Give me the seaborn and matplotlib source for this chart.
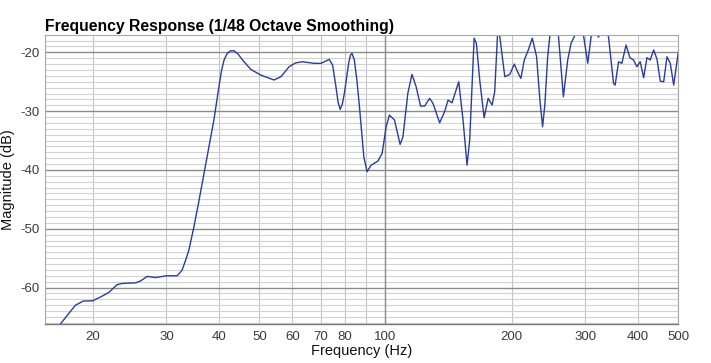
import matplotlib
matplotlib.use("Agg")
import matplotlib.pyplot as plt
import matplotlib.ticker as mticker
import seaborn as sns

# frequency (Hz) and magnitude (dB)
freq_hz = [16.4, 16.8, 18.2, 19.0, 20.0, 20.9, 21.85, 22.9, 23.55, 25.3, 26.0, 27.0, 28.25,
           30.0, 31.85, 32.7, 33.3, 33.95, 34.9, 35.8, 36.9, 37.9, 38.96, 40.05, 40.6, 41.2,
           41.9, 42.7, 43.5, 44.5, 45.6, 47.7, 50.4, 54.2, 56.3, 58.9, 61.0, 63.4, 67.6, 70.15,
           72.0, 73.4, 74.8, 76.2, 77.1, 78.0, 78.9, 79.8, 81.7, 82.5, 83.2, 84.3, 85.5, 86.7,
           88.8, 90.4, 92.4, 95.9, 98.2, 100.4, 102.2, 105.1, 108.4, 110.1, 113.1, 115.7,
           118.4, 121.3, 124.0, 127.5, 129.9, 134.7, 138.4, 141.1, 144.2, 149.6, 153.2, 156.6,
           158.9, 162.8, 164.85, 167.9, 172.0, 175.85, 179.75, 182.3, 185.6, 187.5, 192.7,
           198.1, 203.0, 207.5, 210.5, 214.5, 219.25, 224.15, 229.5, 233.7, 237.2, 240.3,
           243.9, 247.0, 252.0, 258.7, 265.9, 272.3, 277.3, 283.5, 289.0, 296.9, 304.0, 309.6,
           315.0, 322.5, 332.0, 340.7, 350.3, 353.4, 360.1, 366.7, 375.2, 383.2, 391.1, 398.3,
           405.6, 413.3, 420.9, 428.6, 436.7, 444.7, 452.9, 461.4, 469.9, 478.5, 487.5, 500.0]
magnitude_db = [-67.3, -66.1, -63.0, -62.3, -62.25, -61.6, -60.85, -59.5, -59.3, -59.2, -58.9,
                -58.1, -58.3, -58.0, -58.0, -57.05, -55.5, -53.65, -49.7, -45.65, -40.6, -36.07,
                -31.5, -25.85, -23.2, -21.3, -20.2, -19.73, -19.73, -20.3, -21.3, -22.9, -23.86,
                -24.7, -24.15, -22.45, -21.8, -21.6, -21.87, -21.87, -21.5, -21.2, -22.16,
                -25.86, -28.5, -29.7, -28.8, -26.98, -21.87, -20.5, -20.17, -21.3, -24.8, -29.26,
                -37.77, -40.3, -39.2, -38.5, -37.2, -32.66, -30.67, -31.5, -35.66, -34.37,
                -26.98, -23.74, -25.86, -29.14, -29.14, -27.83, -28.68, -31.98, -30.1, -28.12,
                -28.58, -25.0, -31.52, -39.18, -34.93, -17.6, -18.47, -24.7, -31.13, -27.83,
                -28.97, -26.7, -15.5, -17.35, -24.15, -23.74, -22.0, -23.57, -24.43, -21.3,
                -19.6, -17.6, -20.75, -28.12, -32.66, -28.68, -20.75, -17.05, -14.5, -17.05,
                -27.56, -21.3, -18.47, -17.05, -15.0, -17.05, -21.87, -17.35, -16.0, -17.4,
                -15.5, -17.35, -25.28, -25.57, -21.6, -21.87, -18.76, -20.9, -21.3, -22.45,
                -21.6, -24.3, -20.9, -21.3, -19.6, -21.14, -24.9, -25.0, -20.75, -21.87, -25.57,
                -19.95]

x_ticks = [20, 30, 40, 50, 60, 70, 80, 100, 200, 300, 400, 500]
x_tick_labels = ["20", "30", "40", "50", "60", "70", "80", "100", "200", "300", "400", "500"]
x_minor = [90]
y_ticks = [-60, -50, -40, -30, -20]

sns.set_theme(style="white")
plt.rcParams["font.family"] = ["Liberation Sans", "DejaVu Sans"]
plt.rcParams["axes.unicode_minus"] = False

fig = plt.figure(figsize=(7.11, 3.63), dpi=100)
ax = fig.add_axes([0.0633, 0.1074, 0.8907, 0.7962])

sns.lineplot(x=freq_hz, y=magnitude_db, ax=ax, color="#2a3d98", linewidth=1.0,
             sort=False, estimator=None)

ax.set_xscale("log")
ax.set_xlim(15.4, 500)
ax.set_ylim(-66.2, -17.05)

ax.xaxis.set_major_locator(mticker.FixedLocator(x_ticks))
ax.xaxis.set_major_formatter(mticker.FixedFormatter(x_tick_labels))
ax.xaxis.set_minor_locator(mticker.FixedLocator(x_minor))
ax.xaxis.set_minor_formatter(mticker.NullFormatter())
ax.yaxis.set_major_locator(mticker.FixedLocator(y_ticks))
ax.yaxis.set_major_formatter(mticker.FuncFormatter(lambda v, p: f"{int(v)}"))
ax.yaxis.set_minor_locator(mticker.MultipleLocator(1))

ax.grid(which="minor", axis="y", color="#d2d2d2", linewidth=0.8)
ax.grid(which="major", axis="y", color="#8c8c8c", linewidth=1.0)
ax.grid(which="both", axis="x", color="#c4c4c4", linewidth=0.8)
ax.axvline(100, color="#8c8c8c", linewidth=1.0, zorder=1)
ax.set_axisbelow(True)

ax.tick_params(which="both", length=0, labelsize=9.5, labelcolor="#3a3a3a")
ax.tick_params(axis="y", pad=4)
ax.tick_params(axis="x", pad=5)

for side in ["left", "right", "top"]:
    ax.spines[side].set_color("#a8a8a8")
    ax.spines[side].set_linewidth(0.8)
ax.spines["bottom"].set_color("#7a7a7a")
ax.spines["bottom"].set_linewidth(1.0)

ax.set_xlabel("Frequency (Hz)", fontsize=10.5, color="#111111", labelpad=1)
ax.set_ylabel("Magnitude (dB)", fontsize=10.5, color="#111111", labelpad=4)
ax.set_title("Frequency Response (1/48 Octave Smoothing)", fontsize=11.3,
             fontweight="bold", loc="left", pad=3, color="#000000")

fig.savefig("out.png", dpi=100)
